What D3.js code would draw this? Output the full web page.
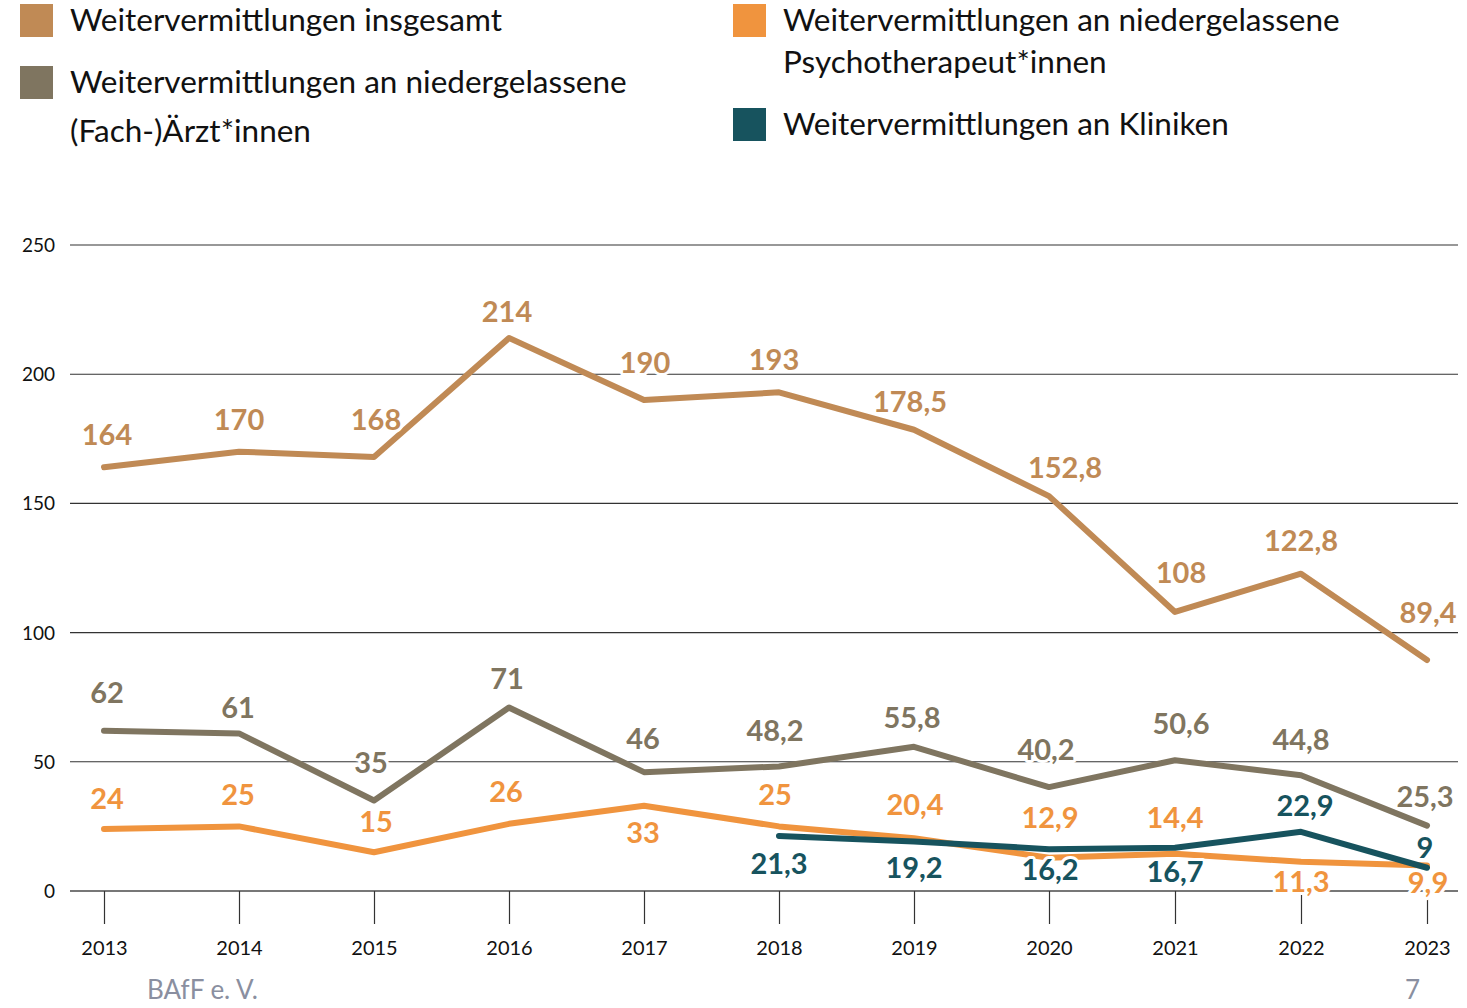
<!DOCTYPE html>
<html>
<head>
<meta charset="utf-8">
<script src="https://cdn.jsdelivr.net/npm/d3@7"></script>
<style>
  body { margin: 0; background: #fff; }
  svg { display: block; font-family: Lato, "Noto Sans", sans-serif; }
  .halo { paint-order: stroke; stroke: #fff; stroke-width: 6px; stroke-linejoin: round; }
</style>
</head>
<body>
<svg id="chart" width="1467" height="1008"></svg>
<script>
// data
const years = [2013, 2014, 2015, 2016, 2017, 2018, 2019, 2020, 2021, 2022, 2023];
const insgesamt = [164, 170, 168, 214, 190, 193, 178.5, 152.8, 108, 122.8, 89.4];
const aerzte = [62, 61, 35, 71, 46, 48.2, 55.8, 40.2, 50.6, 44.8, 25.3];
const psycho = [24, 25, 15, 26, 33, 25, 20.4, 12.9, 14.4, 11.3, 9.9];
const kliniken = [null, null, null, null, null, 21.3, 19.2, 16.2, 16.7, 22.9, 9];
const yTicks = [0, 50, 100, 150, 200, 250];

// label placement (dx, dy of label centre from the point)
const offInsg = [[3,-32],[0,-32],[2,-37],[-2,-26],[1,-37],[-5,-32],[-4,-28],[16,-28],[6,-39],[0,-33],[1,-47]];
const offAerz = [[3,-38],[-1,-25],[-3,-38],[-2,-29],[-1,-33],[-4,-35],[-2,-29],[-3,-37],[6,-36],[0,-35],[-2,-29]];
const offPsy = [[3,-30],[-1,-31],[2,-30],[-3,-32],[-1,27],[-4,-31],[1,-33],[1,-40],[0,-36],[0,20],[1,18]];
const offKlin = [null,null,null,null,null,[0,28],[0,27],[1,21],[0,24],[4,-26],[-2,-20]];

const series = [
  { name: "insgesamt", values: insgesamt, color: "#C08A55", off: offInsg },
  { name: "aerzte", values: aerzte, color: "#7F7560", off: offAerz },
  { name: "psycho", values: psycho, color: "#F0943E", off: offPsy },
  { name: "kliniken", values: kliniken, color: "#17535E", off: offKlin }
];

const legendLeft = [
  { color: "#C08A55", lines: ["Weitervermittlungen insgesamt"] },
  { color: "#7F7560", lines: ["Weitervermittlungen an niedergelassene", "(Fach-)Ärzt*innen"] }
];
const legendRight = [
  { color: "#F0943E", lines: ["Weitervermittlungen an niedergelassene", "Psychotherapeut*innen"] },
  { color: "#17535E", lines: ["Weitervermittlungen an Kliniken"] }
];

const svg = d3.select("#chart");
// the year spacing narrows after 2020 in the original
const x = d3.scaleLinear().domain([2013, 2020, 2023]).range([104, 1049, 1427]);
const y = d3.scaleLinear().domain([0, 250]).range([891, 245]);

// gridlines
svg.append("g").selectAll("line").data(yTicks).join("line")
  .attr("x1", 70).attr("x2", 1458)
  .attr("y1", d => y(d)).attr("y2", d => y(d))
  .attr("stroke", d => d === 0 ? "#777" : "#333")
  .attr("stroke-width", d => d === 0 ? 1.8 : 1.1);

svg.append("g").selectAll("text").data(yTicks).join("text")
  .attr("x", 55).attr("y", d => y(d) + 7)
  .attr("text-anchor", "end")
  .attr("font-size", 19).attr("fill", "#111")
  .text(d => d);

// x axis ticks
const xAxis = d3.axisBottom(x).tickValues(years).tickFormat(d3.format("d")).tickSize(33).tickPadding(17);
const gx = svg.append("g").attr("transform", "translate(0," + y(0) + ")").call(xAxis);
gx.select(".domain").remove();
gx.selectAll(".tick line").attr("stroke", "#333").attr("stroke-width", 1.2);
gx.selectAll(".tick text").attr("font-size", 20).attr("font-family", "Lato, sans-serif").attr("fill", "#111");

// lines
const line = d3.line()
  .defined(d => d.v !== null)
  .x(d => x(d.year))
  .y(d => y(d.v));

series.forEach(s => {
  const pts = years.map((yr, i) => ({ year: yr, v: s.values[i], off: s.off[i] }));
  svg.append("path").datum(pts)
    .attr("d", line)
    .attr("fill", "none")
    .attr("stroke", s.color)
    .attr("stroke-width", 6)
    .attr("stroke-linejoin", "round")
    .attr("stroke-linecap", "round");
  s.pts = pts;
});

// value labels
const fmt = v => String(v).replace(".", ",");
series.forEach(s => {
  svg.append("g").selectAll("text").data(s.pts.filter(d => d.v !== null)).join("text")
    .attr("class", "halo")
    .attr("x", d => x(d.year) + d.off[0])
    .attr("y", d => y(d.v) + d.off[1] + 10)
    .attr("text-anchor", "middle")
    .attr("font-size", 29).attr("font-weight", 700)
    .attr("fill", s.color)
    .text(d => fmt(d.v));
});

// legend
function drawLegend(items, lx, tops, lineGap) {
  items.forEach((it, i) => {
    const g = svg.append("g").attr("transform", "translate(" + lx + "," + tops[i] + ")");
    g.append("rect").attr("width", 33).attr("height", 33).attr("fill", it.color);
    it.lines.forEach((t, j) => {
      g.append("text").attr("x", 50).attr("y", 27 + j * lineGap)
        .attr("font-size", 31.5).attr("fill", "#111").text(t);
    });
  });
}
drawLegend(legendLeft, 20, [4, 66], 49);
drawLegend(legendRight, 733, [4, 108], 42);

// footer
svg.append("text").attr("x", 147).attr("y", 999).attr("font-size", 26).attr("fill", "#8A8FA0").text("BAfF e. V.");
svg.append("text").attr("x", 1405).attr("y", 999).attr("font-size", 26).attr("fill", "#8A8FA0").text("7");
</script>
</body>
</html>
